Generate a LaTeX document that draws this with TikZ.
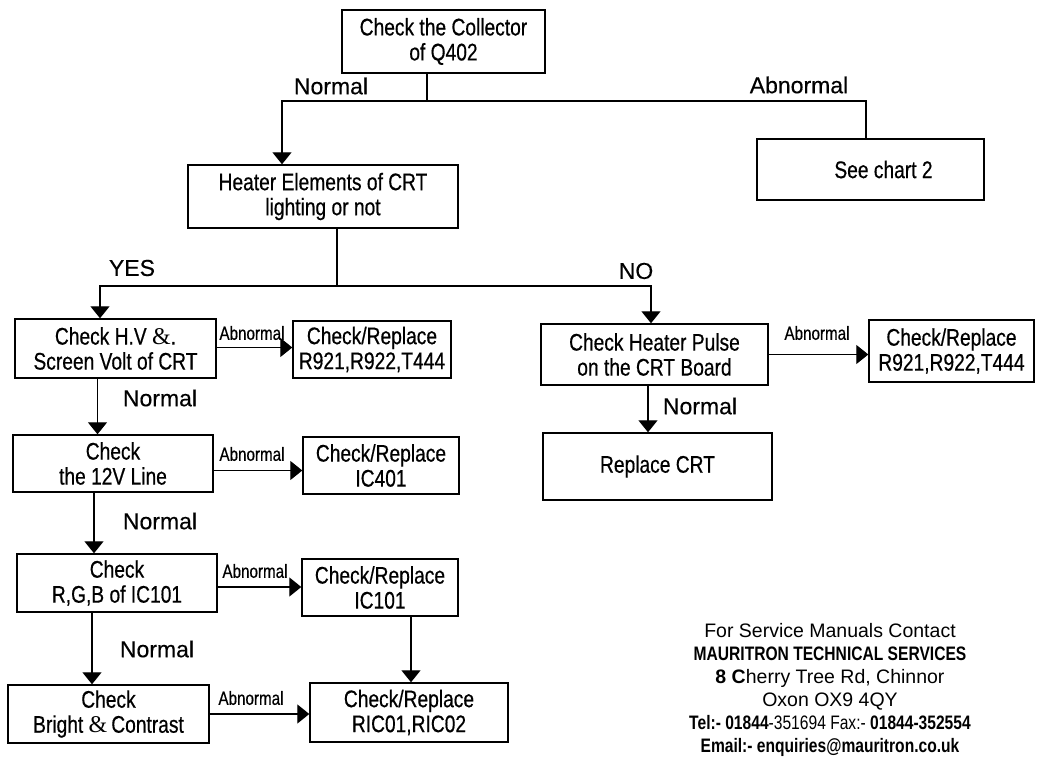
\documentclass[tikz,border=0pt]{standalone}
\usepackage{fontspec}
\setmainfont{Liberation Sans}
\newfontfamily\narrow[FakeStretch=0.8]{Liberation Sans}
\newfontfamily\narrowh[FakeStretch=0.8,FakeBold=0.5]{Liberation Sans}
\newfontfamily\labfont[FakeBold=0.4]{Liberation Sans}
\newfontfamily\ampfont{Liberation Serif}
\usetikzlibrary{arrows.meta}
\begin{document}
\begin{tikzpicture}[x=1pt,y=-1pt,
  box/.style={draw, line width=1.4pt, inner sep=1pt, align=center,
    font=\narrowh\fontsize{24}{25}\selectfont},
  arr/.style={line width=1.3pt, -{Triangle[width=19pt,length=12pt]}},
  ln/.style={line width=1.3pt},
  lbl/.style={font=\labfont\fontsize{23}{25}\selectfont, inner sep=0pt},
  ab/.style={font=\narrowh\fontsize{19}{20}\selectfont, inner sep=0pt}]
\useasboundingbox (0,0) rectangle (1037,759);

% boxes
\node[box, minimum width=203pt, minimum height=63pt] (b1) at (443.5,41.5) {Check the Collector\\of Q402};
\node[box, minimum width=270pt, minimum height=63pt] (b2) at (323,196.5) {Heater Elements of CRT\\lighting or not};
\node[box, minimum width=227pt, minimum height=61pt] (see) at (870.5,169.5) {\hspace*{26pt}See chart 2};
\node[box, minimum width=201pt, minimum height=59pt] (b3) at (115.5,348.5) {Check H.V {\ampfont\&}.\\Screen Volt of CRT};
\node[box, minimum width=158pt, minimum height=57pt] (b4) at (372,349.5) {Check/Replace\\R921,R922,T444};
\node[box, minimum width=200pt, minimum height=57pt] (b5) at (113,463.5) {Check\\the 12V Line};
\node[box, minimum width=156pt, minimum height=57pt] (b6) at (381,465.5) {Check/Replace\\IC401};
\node[box, minimum width=200pt, minimum height=58pt] (b7) at (117,583) {Check\\R,G,B of IC101};
\node[box, minimum width=156pt, minimum height=57pt] (b8) at (380,587.5) {Check/Replace\\IC101};
\node[box, minimum width=201pt, minimum height=58pt] (b9) at (108.5,714) {Check\\Bright {\ampfont\&}\,Contrast};
\node[box, minimum width=198pt, minimum height=59pt] (b10) at (409,712.5) {Check/Replace\\RIC01,RIC02};
\node[box, minimum width=227pt, minimum height=61pt] (b11) at (654.5,354.5) {Check Heater Pulse\\on the CRT Board};
\node[box, minimum width=165pt, minimum height=62pt] (b12) at (951.5,351) {Check/Replace\\R921,R922,T444};
\node[box, minimum width=229pt, minimum height=67pt] (crt) at (657.5,466.5) {Replace CRT};

% junctions
\coordinate (j1) at (427,101);
\coordinate (j2) at (337,286);

% connectors
\draw[ln] (b1.south -| j1) -- (j1);
\draw[arr] (j1) -| ([xshift=-41pt]b2.north);
\draw[ln] (j1) -| ([xshift=-4.5pt]see.north);
\draw[ln] (b2.south -| j2) -- (j2);
\draw[arr] (j2) -| ([xshift=-15.5pt]b3.north);
\draw[arr] (j2) -| ([xshift=-3.5pt]b11.north);

\draw[arr] ([yshift=1pt]b3.east) -- ([yshift=1pt]b3.east -| b4.west);
\draw[arr] ([xshift=-18pt]b3.south) -- ([xshift=-18pt]b3.south |- b5.north);
\draw[arr] ([yshift=-7pt]b5.east) -- ([yshift=-7pt]b5.east -| b6.west);
\draw[arr] ([xshift=-19pt]b5.south) -- ([xshift=-19pt]b5.south |- b7.north);
\draw[arr] ([yshift=-4pt]b7.east) -- ([yshift=-4pt]b7.east -| b8.west);
\draw[arr] ([xshift=-25pt]b7.south) -- ([xshift=-25pt]b7.south |- b9.north);
\draw[arr] ([xshift=31pt]b8.south) -- ([xshift=31pt]b8.south |- b10.north);
\draw[arr] (b9.east) -- (b9.east -| b10.west);
\draw[arr] (b11.east) -- (b11.east -| b12.west);
\draw[arr] ([xshift=-6.5pt]b11.south) -- ([xshift=-6.5pt]b11.south |- crt.north);

% labels
\node[lbl] (l1) at (331,86) {Normal};
\node[lbl] (l2) at (799,85) {Abnormal};
\node[lbl] (l3) at (132,268) {YES};
\node[lbl] (l4) at (636,271) {NO};
\node[lbl] (l5) at (160,398) {Normal};
\node[lbl] (l6) at (160,521) {Normal};
\node[lbl] (l7) at (157,649) {Normal};
\node[lbl] (l8) at (700,406) {Normal};
\node[ab] (a1) at (252,333) {Abnormal};
\node[ab] (a2) at (252,454) {Abnormal};
\node[ab] (a3) at (255,571) {Abnormal};
\node[ab] (a4) at (251,698) {Abnormal};
\node[ab] (a5) at (817,333) {Abnormal};

% contact
\node[align=center, inner sep=0pt, font=\fontsize{19.5}{23}\selectfont] (contact) at (830,690)
  {For Service Manuals Contact\\
   {\narrow\bfseries MAURITRON TECHNICAL SERVICES}\\
   {\bfseries 8 C}herry Tree Rd, Chinnor\\
   Oxon OX9 4QY\\
   {\narrow{\bfseries Tel:- 01844}-351694 Fax:- {\bfseries 01844-352554}}\\
   {\narrow\bfseries Email:- enquiries@mauritron.co.uk}};
\end{tikzpicture}
\end{document}
